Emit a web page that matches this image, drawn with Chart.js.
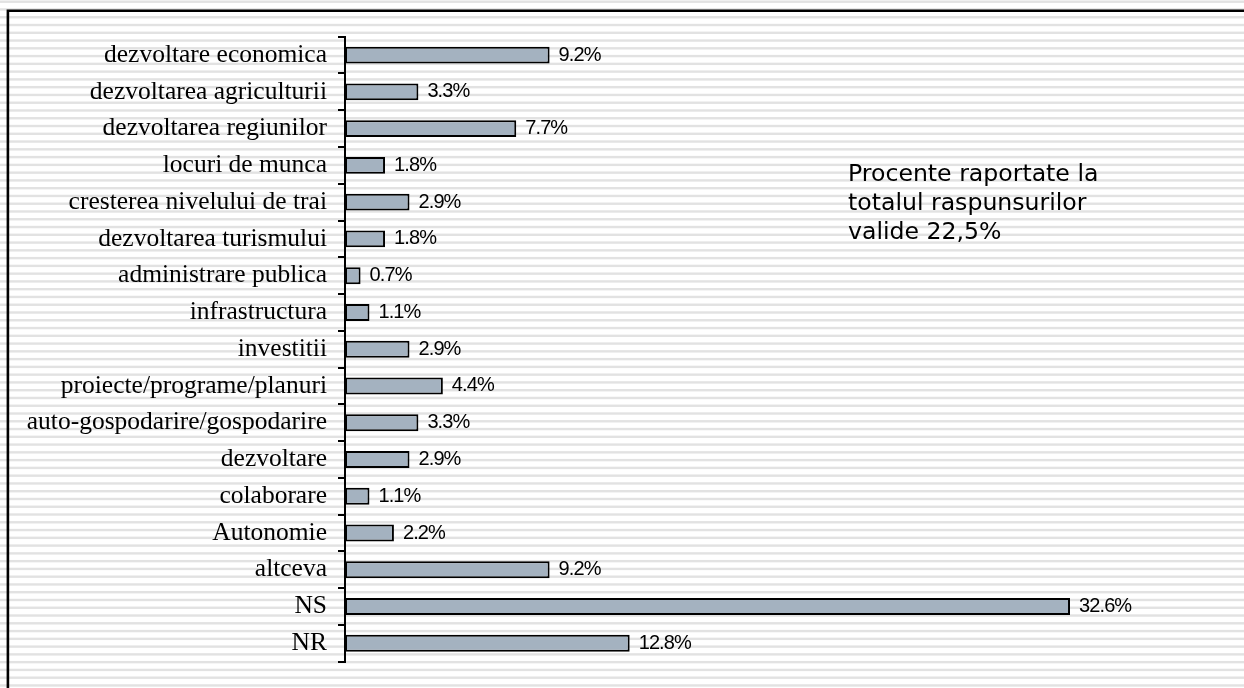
<!DOCTYPE html>
<html>
<head>
<meta charset="utf-8">
<script src="https://cdn.jsdelivr.net/npm/chart.js@4"></script>
<style>
  html, body { margin: 0; padding: 0; background: #fff; }
  #wrap { position: relative; width: 1244px; height: 688px; overflow: hidden; }
  #c { position: absolute; left: 0; top: 0; }
  #note { position: absolute; left: 848px; top: 159px; font-family: "DejaVu Sans", sans-serif; font-size: 23.6px; line-height: 29px; color: #000; white-space: nowrap; }
</style>
</head>
<body>
<div id="wrap">
  <canvas id="c" width="1244" height="688"></canvas>
  <div id="note">Procente raportate la<br>totalul raspunsurilor<br>valide 22,5%</div>
</div>
<script>
const categories = ["dezvoltare economica","dezvoltarea agriculturii","dezvoltarea regiunilor","locuri de munca","cresterea nivelului de trai","dezvoltarea turismului","administrare publica","infrastructura","investitii","proiecte/programe/planuri","auto-gospodarire/gospodarire","dezvoltare","colaborare","Autonomie","altceva","NS","NR"];
const values = [9.2,3.3,7.7,1.8,2.9,1.8,0.7,1.1,2.9,4.4,3.3,2.9,1.1,2.2,9.2,32.6,12.8];
const valueLabels = ["9.2%","3.3%","7.7%","1.8%","2.9%","1.8%","0.7%","1.1%","2.9%","4.4%","3.3%","2.9%","1.1%","2.2%","9.2%","32.6%","12.8%"];

const stripes = {
  id: 'stripes',
  beforeDraw(chart) {
    const ctx = chart.ctx;
    ctx.save();
    ctx.fillStyle = '#ffffff';
    ctx.fillRect(0, 0, chart.width, chart.height);
    ctx.fillStyle = '#e2e2e2';
    for (let y = 1.7 - 1.2; y < chart.height; y += 7.77) {
      ctx.fillRect(0, y, chart.width, 2.4);
    }
    ctx.strokeStyle = '#000';
    ctx.lineWidth = 2.6;
    ctx.beginPath();
    ctx.moveTo(7.9, chart.height + 5);
    ctx.lineTo(7.9, 10.8);
    ctx.lineTo(chart.width + 5, 10.8);
    ctx.stroke();
    ctx.restore();
  }
};

const valueText = {
  id: 'valueText',
  afterDatasetsDraw(chart) {
    const ctx = chart.ctx;
    const meta = chart.getDatasetMeta(0);
    ctx.save();
    ctx.font = '20px "Liberation Sans", Arial, sans-serif';
    try { ctx.letterSpacing = '-0.9px'; } catch (e) {}
    ctx.fillStyle = '#000';
    ctx.textAlign = 'left';
    ctx.textBaseline = 'middle';
    meta.data.forEach((bar, i) => {
      ctx.fillText(valueLabels[i], bar.x + 9, bar.y);
    });
    ctx.restore();
  }
};

new Chart(document.getElementById('c'), {
  type: 'bar',
  data: {
    labels: categories,
    datasets: [{
      data: values,
      backgroundColor: '#a4b2c0',
      borderColor: '#000',
      borderWidth: 2,
      borderSkipped: false,
      categoryPercentage: 1,
      barPercentage: 0.46
    }]
  },
  options: {
    indexAxis: 'y',
    responsive: false,
    animation: false,
    layout: { padding: { left: 0, top: 36.7, bottom: 21, right: 9.4 } },
    plugins: { legend: { display: false }, tooltip: { enabled: false } },
    scales: {
      x: { display: false, min: 0, max: 40 },
      y: {
        afterFit(s) { s.width = 345; },
        grid: { display: true, drawOnChartArea: false, drawTicks: true, tickLength: 7, color: '#000', lineWidth: 2, offset: true },
        border: { display: true, color: '#000', width: 2 },
        ticks: { color: '#000', padding: 11, font: { family: '"Liberation Serif", "Times New Roman", serif', size: 25.5 } }
      }
    }
  },
  plugins: [stripes, valueText]
});
</script>
</body>
</html>
